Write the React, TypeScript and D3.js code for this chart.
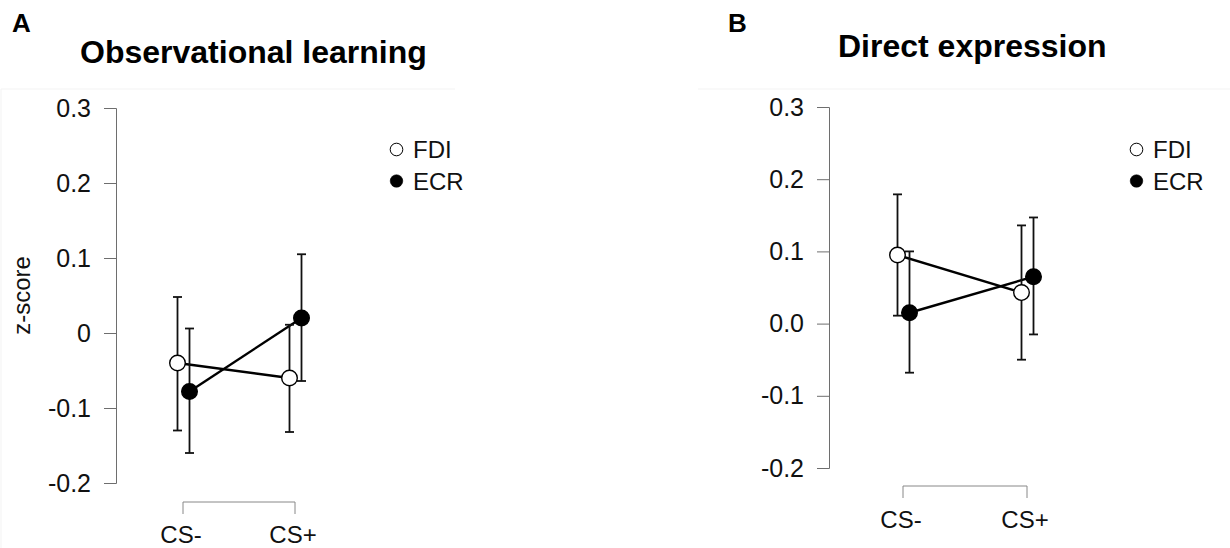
import React, { useEffect, useRef } from 'react';
import * as d3 from 'd3';

const conditions = ['CS-', 'CS+'];
const yTicks = [-0.2, -0.1, 0, 0.1, 0.2, 0.3];
const groups = ['FDI', 'ECR'];

// Observational learning
const olFdiMean = [-0.04, -0.06];
const olFdiLow = [-0.13, -0.132];
const olFdiHigh = [0.048, 0.011];
const olEcrMean = [-0.078, 0.02];
const olEcrLow = [-0.16, -0.064];
const olEcrHigh = [0.006, 0.105];

// Direct expression
const deFdiMean = [0.095, 0.043];
const deFdiLow = [0.011, -0.05];
const deFdiHigh = [0.179, 0.136];
const deEcrMean = [0.015, 0.065];
const deEcrLow = [-0.068, -0.015];
const deEcrHigh = [0.1, 0.147];

const FONT = 'Liberation Sans, Arial, sans-serif';

const fmt1 = d => d3.format('.1f')(d).replace('\u2212', '-');

const drawPanel = (svg, opts) => {
  const g = svg.append('g');

  // faint frame of the original plot image
  g.append('path')
    .attr('d', opts.frame)
    .attr('fill', 'none')
    .attr('stroke', '#f3f3f3')
    .attr('stroke-width', 1);

  g.append('text')
    .attr('x', opts.letterX)
    .attr('y', 32)
    .attr('font-family', FONT)
    .attr('font-weight', 'bold')
    .attr('font-size', 26)
    .text(opts.letter);

  g.append('text')
    .attr('x', opts.titleX)
    .attr('y', opts.titleY)
    .attr('font-family', FONT)
    .attr('font-weight', 'bold')
    .attr('font-size', 32)
    .text(opts.title);

  const y = d3.scaleLinear().domain([-0.2, 0.3]).range(opts.yRange);
  const x = d3.scalePoint().domain(conditions).range(opts.xRange);

  const yAxis = d3.axisLeft(y)
    .tickValues(yTicks)
    .tickSize(12)
    .tickPadding(13)
    .tickFormat(opts.fmt);

  const ya = g.append('g')
    .attr('transform', `translate(${opts.axisX},0)`)
    .call(yAxis);
  ya.select('.domain').attr('stroke', '#6e6e6e').attr('stroke-width', 1);
  ya.selectAll('.tick line').attr('stroke', '#6e6e6e');
  ya.selectAll('.tick text')
    .attr('font-family', FONT)
    .attr('font-size', 25)
    .attr('fill', '#111');

  if (opts.yLabel) {
    g.append('text')
      .attr('transform', `translate(30,${(opts.yRange[0] + opts.yRange[1]) / 2}) rotate(-90)`)
      .attr('text-anchor', 'middle')
      .attr('font-family', FONT)
      .attr('font-size', 24)
      .attr('fill', '#111')
      .text(opts.yLabel);
  }

  // x bracket
  const [x0, x1] = opts.xRange;
  g.append('path')
    .attr('d', `M${x0},${opts.bracketY + 12}V${opts.bracketY}H${x1}V${opts.bracketY + 12}`)
    .attr('fill', 'none')
    .attr('stroke', '#888')
    .attr('stroke-width', 1);

  g.selectAll('.xlab')
    .data(conditions)
    .enter()
    .append('text')
    .attr('x', d => x(d) - 2)
    .attr('y', opts.xLabelY)
    .attr('text-anchor', 'middle')
    .attr('font-family', FONT)
    .attr('font-size', 24)
    .attr('fill', '#111')
    .text(d => d);

  const series = [
    { name: 'FDI', mean: opts.fdi[0], low: opts.fdi[1], high: opts.fdi[2], dx: -5.5, fill: '#fff' },
    { name: 'ECR', mean: opts.ecr[0], low: opts.ecr[1], high: opts.ecr[2], dx: 6.5, fill: '#000' },
  ];

  const line = d3.line()
    .x(d => d[0])
    .y(d => d[1]);

  series.forEach(s => {
    const pts = conditions.map((c, i) => [x(c) + s.dx, y(s.mean[i])]);
    g.append('path')
      .attr('d', line(pts))
      .attr('fill', 'none')
      .attr('stroke', '#000')
      .attr('stroke-width', 2.4);
  });

  series.forEach(s => {
    conditions.forEach((c, i) => {
      const cx = x(c) + s.dx;
      g.append('line')
        .attr('x1', cx).attr('x2', cx)
        .attr('y1', y(s.low[i])).attr('y2', y(s.high[i]))
        .attr('stroke', '#111').attr('stroke-width', 1.8);
      [s.low[i], s.high[i]].forEach(v => {
        g.append('line')
          .attr('x1', cx - 4.5).attr('x2', cx + 4.5)
          .attr('y1', y(v)).attr('y2', y(v))
          .attr('stroke', '#111').attr('stroke-width', 1.8);
      });
    });
  });

  series.forEach(s => {
    g.selectAll(null)
      .data(s.mean)
      .enter()
      .append('circle')
      .attr('cx', (d, i) => x(conditions[i]) + s.dx)
      .attr('cy', d => y(d))
      .attr('r', 7.8)
      .attr('fill', s.fill)
      .attr('stroke', '#000')
      .attr('stroke-width', 1.4);
  });

  // legend
  groups.forEach((name, i) => {
    const ly = 149.5 + i * 31.5;
    g.append('circle')
      .attr('cx', opts.legendX)
      .attr('cy', ly)
      .attr('r', 6.3)
      .attr('fill', name === 'FDI' ? '#fff' : '#000')
      .attr('stroke', '#000')
      .attr('stroke-width', name === 'FDI' ? 1 : 0.5);
    g.append('text')
      .attr('x', opts.legendX + 16.5)
      .attr('y', ly + 8.5)
      .attr('font-family', FONT)
      .attr('font-size', 24)
      .attr('fill', '#111')
      .text(name);
  });
};

const App = () => {
  const svgRef = useRef(null);

  useEffect(() => {
    const svg = d3.select(svgRef.current);
    svg.selectAll('*').remove();

    drawPanel(svg, {
      letter: 'A',
      letterX: 12,
      title: 'Observational learning',
      titleX: 80,
      titleY: 63,
      frame: 'M1,548V89H455',
      yRange: [483, 108],
      xRange: [183, 295],
      axisX: 116,
      fmt: d => (d === 0 ? '0' : fmt1(d)),
      yLabel: 'z-score',
      bracketY: 502,
      xLabelY: 543,
      legendX: 396.5,
      fdi: [olFdiMean, olFdiLow, olFdiHigh],
      ecr: [olEcrMean, olEcrLow, olEcrHigh],
    });

    drawPanel(svg, {
      letter: 'B',
      letterX: 728,
      title: 'Direct expression',
      titleX: 838,
      titleY: 57,
      frame: 'M698,89H1230',
      yRange: [468, 107],
      xRange: [903, 1027],
      axisX: 829,
      fmt: fmt1,
      yLabel: null,
      bracketY: 486,
      xLabelY: 528,
      legendX: 1136.5,
      fdi: [deFdiMean, deFdiLow, deFdiHigh],
      ecr: [deEcrMean, deEcrLow, deEcrHigh],
    });
  }, []);

  return (
    <svg
      ref={svgRef}
      width={1230}
      height={548}
      style={{ position: 'absolute', left: 0, top: 0, background: '#fff' }}
    />
  );
};

export default App;
